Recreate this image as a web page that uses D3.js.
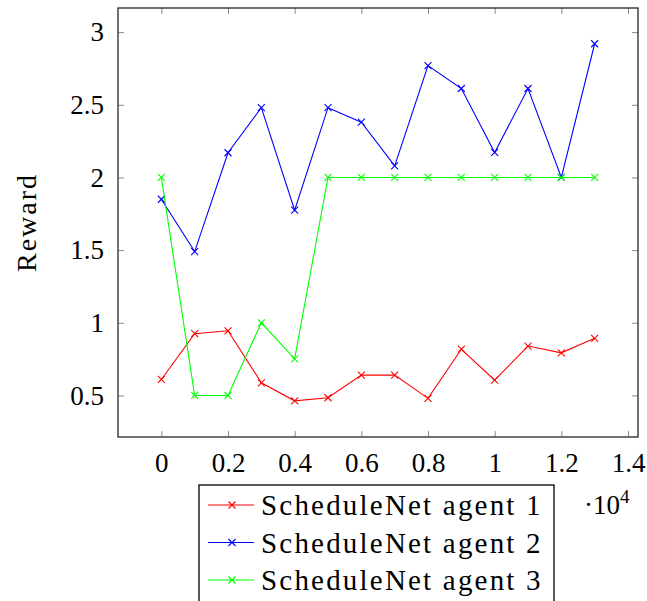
<!DOCTYPE html>
<html>
<head>
<meta charset="utf-8">
<script src="https://cdn.jsdelivr.net/npm/d3@7"></script>
<style>
  body { margin: 0; background: #fff; }
  svg text { font-family: "Liberation Serif", "DejaVu Serif", serif; fill: #000; }
</style>
</head>
<body>
<svg id="chart" width="647" height="601"></svg>
<script>
// iterations (x values) and rewards per agent
var steps = [0, 1000, 2000, 3000, 4000, 5000, 6000, 7000, 8000, 9000, 10000, 11000, 12000, 13000];
var agent1 = [0.61, 0.925, 0.945, 0.587, 0.463, 0.484, 0.64, 0.64, 0.48, 0.818, 0.605, 0.84, 0.793, 0.893];
var agent2 = [1.85, 1.49, 2.17, 2.48, 1.775, 2.48, 2.38, 2.08, 2.77, 2.612, 2.172, 2.612, 2.0, 2.92];
var agent3 = [2.0, 0.5, 0.5, 1.0, 0.752, 2.0, 2.0, 2.0, 2.0, 2.0, 2.0, 2.0, 2.0, 2.0];
var seriesNames = ["ScheduleNet agent 1", "ScheduleNet agent 2", "ScheduleNet agent 3"];
var seriesColors = ["#ff0000", "#0000ff", "#00ff00"];
var xTicks = [0, 2000, 4000, 6000, 8000, 10000, 12000, 14000];
var yTicks = [0.5, 1, 1.5, 2, 2.5, 3];

var svg = d3.select("#chart");
var margin = {top: 8, left: 118, right: 9, bottom: 164};
var width = 647 - margin.left - margin.right,
    height = 601 - margin.top - margin.bottom;

var x = d3.scaleLinear().domain([-1300, 14300]).range([0, width]);
var y = d3.scaleLinear().domain([0.214, 3.166]).range([height, 0]);

var g = svg.append("g").attr("transform", "translate(" + margin.left + "," + margin.top + ")");

// ticks on all four sides, pointing inward
function tickStyle(sel){
  sel.select(".domain").remove();
  sel.selectAll(".tick line").attr("stroke", "#8c8c8c").attr("stroke-width", 1);
  sel.selectAll(".tick text").attr("font-size", 27).attr("font-family", "Liberation Serif");
}
var fmtX = function(d){ return d3.format("")(+(d / 10000).toFixed(1)); };

g.append("g").attr("transform", "translate(0," + height + ")")
  .call(d3.axisBottom(x).tickValues(xTicks).tickSize(-6).tickPadding(16).tickFormat(fmtX))
  .call(tickStyle);
g.append("g")
  .call(d3.axisTop(x).tickValues(xTicks).tickSize(-6).tickFormat(""))
  .call(tickStyle);
g.append("g")
  .call(d3.axisLeft(y).tickValues(yTicks).tickSize(-6).tickPadding(14).tickFormat(d3.format("")))
  .call(tickStyle);
g.append("g").attr("transform", "translate(" + width + ",0)")
  .call(d3.axisRight(y).tickValues(yTicks).tickSize(-6).tickFormat(""))
  .call(tickStyle);

// frame
g.append("rect").attr("width", width).attr("height", height)
  .attr("fill", "none").attr("stroke", "#262626").attr("stroke-width", 1.3);

var series = [agent1, agent2, agent3];
var line = d3.line().x(function(d){ return x(d[0]); }).y(function(d){ return y(d[1]); });

function cross(sel, color){
  sel.append("path")
    .attr("d", "M-3.5,-3.5L3.5,3.5M-3.5,3.5L3.5,-3.5")
    .attr("stroke", color).attr("stroke-width", 1.1).attr("fill", "none");
}

series.forEach(function(vals, i){
  var pts = steps.map(function(s, j){ return [s, vals[j]]; });
  g.append("path").datum(pts)
    .attr("d", line).attr("fill", "none")
    .attr("stroke", seriesColors[i]).attr("stroke-width", 1.1);
  g.selectAll(".m" + i).data(pts).enter().append("g")
    .attr("transform", function(d){ return "translate(" + x(d[0]) + "," + y(d[1]) + ")"; })
    .each(function(){ cross(d3.select(this), seriesColors[i]); });
});

// axis label
svg.append("text")
  .attr("transform", "translate(36," + (margin.top + height / 2) + ") rotate(-90)")
  .attr("text-anchor", "middle").attr("font-size", 28).attr("letter-spacing", 2)
  .text("Reward");

// exponent note
var expo = svg.append("text").attr("x", 584).attr("y", 514).attr("font-size", 27);
expo.append("tspan").text("\u00b710");
expo.append("tspan").attr("dy", -11).attr("font-size", 19).text("4");

// legend
var legend = svg.append("g").attr("transform", "translate(199,485)");
legend.append("rect").attr("width", 355).attr("height", 130)
  .attr("fill", "#fff").attr("stroke", "#000").attr("stroke-width", 1.3);
var items = legend.selectAll(".item").data(seriesNames).enter().append("g")
  .attr("transform", function(d, i){ return "translate(0," + (20 + i * 37.5) + ")"; });
items.append("line").attr("x1", 9).attr("x2", 55)
  .attr("stroke", function(d, i){ return seriesColors[i]; }).attr("stroke-width", 1.1);
items.each(function(d, i){
  d3.select(this).append("g").attr("transform", "translate(33,0)").call(cross, seriesColors[i]);
});
items.append("text").attr("x", 62).attr("dy", "0.35em").attr("font-size", 29)
  .attr("letter-spacing", 2.2)
  .text(function(d){ return d; });
</script>
</body>
</html>
